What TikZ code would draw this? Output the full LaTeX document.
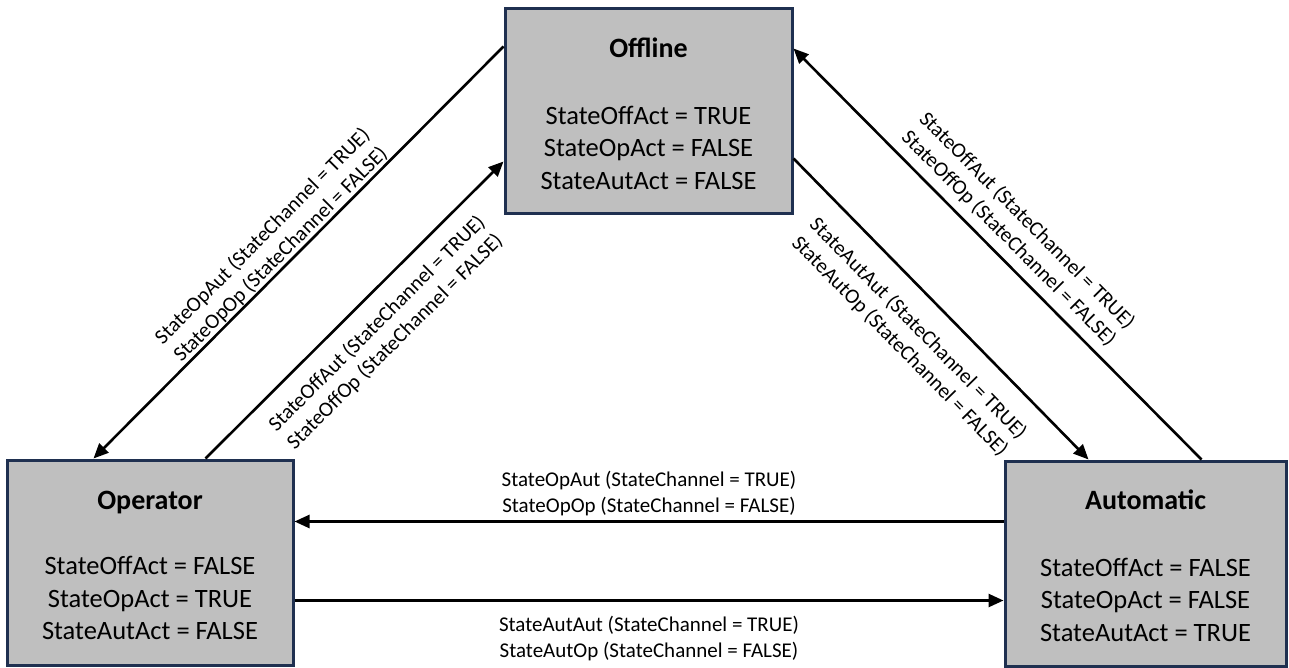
\documentclass[tikz,border=0pt]{standalone}
\usepackage{fontspec}
\setmainfont{Carlito}
\usetikzlibrary{arrows.meta,calc}
\definecolor{boxfill}{RGB}{191,191,191}
\definecolor{boxline}{RGB}{31,48,80}
\begin{document}
\begin{tikzpicture}[x=1pt,y=-1pt,
  statebox/.style={draw=boxline, line width=3pt, fill=boxfill, rectangle, inner sep=0pt},
  titletext/.style={font=\fontsize{28}{33}\selectfont\bfseries, anchor=base, inner sep=0pt},
  bodytext/.style={font=\fontsize{26.5}{32.5}\selectfont, align=center, anchor=base, inner sep=0pt},
  trans/.style={line width=2.6pt, -{Triangle[length=15pt,width=13pt]}},
  lbl/.style={font=\fontsize{21}{25.5}\selectfont, align=center, inner sep=0pt},
]
\useasboundingbox (0,0) rectangle (1289,668);

% state boxes
\node[statebox, minimum width=287pt, minimum height=205pt] (off) at (648.5,111.5) {};
\node[statebox, minimum width=286pt, minimum height=205pt] (op) at (150,562.5) {};
\node[statebox, minimum width=281pt, minimum height=205pt] (aut) at (1145.5,563.5) {};

% box texts (body anchored at the baseline of its last line)
\node[titletext] (offT) at ($(off.north)+(0,50)$) {Offline};
\node[bodytext] (offB) at ($(off.north)+(0,182)$) {StateOffAct = TRUE\\StateOpAct = FALSE\\StateAutAct = FALSE};
\node[titletext] (opT) at ($(op.north)+(0,50.5)$) {Operator};
\node[bodytext] (opB) at ($(op.north)+(0,181)$) {StateOffAct = FALSE\\StateOpAct = TRUE\\StateAutAct = FALSE};
\node[titletext] (autT) at ($(aut.north)+(0,49.5)$) {Automatic};
\node[bodytext] (autB) at ($(aut.north)+(0,181.5)$) {StateOffAct = FALSE\\StateOpAct = FALSE\\StateAutAct = TRUE};

% connection points
\coordinate (offL1) at ($(off.north west)+(0,39)$);
\coordinate (offL2) at ($(off.north west)+(0,154)$);
\coordinate (offR1) at ($(off.north east)+(0,41)$);
\coordinate (offR2) at ($(off.north east)+(0,151)$);
\coordinate (opT1) at ($(op.north west)+(88,0)$);
\coordinate (opT2) at ($(op.north west)+(200,0)$);
\coordinate (opR1) at ($(op.north east)+(0,63)$);
\coordinate (opR2) at ($(op.north east)+(0,142)$);
\coordinate (autT1) at ($(aut.north west)+(85,0)$);
\coordinate (autT2) at ($(aut.north west)+(198,0)$);

% transitions
\draw[trans] (offL1) -- node[lbl, sloped, above=0.5pt, pos=0.524] {StateOpAut (StateChannel = TRUE)\\StateOpOp (StateChannel = FALSE)} (opT1);
\draw[trans] (opT2) -- node[lbl, sloped, below=15pt, pos=0.515] {StateOffAut (StateChannel = TRUE)\\StateOffOp (StateChannel = FALSE)} (offL2);
\draw[trans] (autT2) -- node[lbl, sloped, above=8pt, pos=0.505] {StateOffAut (StateChannel = TRUE)\\StateOffOp (StateChannel = FALSE)} (offR1);
\draw[trans] (offR2) -- node[lbl, sloped, below=19.5pt, pos=0.495] {StateAutAut (StateChannel = TRUE)\\StateAutOp (StateChannel = FALSE)} (autT1);
\draw[trans] (opR1 -| aut.west) -- node[lbl, above=4.5pt, pos=0.5] {StateOpAut (StateChannel = TRUE)\\StateOpOp (StateChannel = FALSE)} (opR1);
\draw[trans] (opR2) -- node[lbl, below=14.5pt, pos=0.5] {StateAutAut (StateChannel = TRUE)\\StateAutOp (StateChannel = FALSE)} (opR2 -| aut.west);
\end{tikzpicture}
\end{document}
